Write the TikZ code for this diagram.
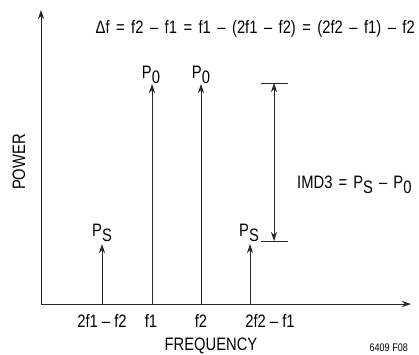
\documentclass[tikz,border=0pt]{standalone}
\usepackage{fontspec}
\setmainfont{Liberation Sans}[FakeStretch=0.82]
\usetikzlibrary{arrows.meta}
\newcommand{\sub}[1]{\raisebox{-5pt}{#1}}
\begin{document}
\begin{tikzpicture}[x=1pt,y=-1pt,
  ln/.style={line width=0.8pt,draw=black!85},
  tip/.style={-{Stealth[length=9pt,width=6pt]}},
  lbl/.style={font=\fontsize{18}{20}\selectfont,inner sep=0pt},
  small/.style={font=\fontsize{11}{12}\selectfont,inner sep=0pt}]
\useasboundingbox (0,0) rectangle (419,354);
% axes
\coordinate (O) at (41,304);
\coordinate (ytop) at (41,10);
\coordinate (xend) at (411,304);
\draw[ln,tip] (O) -- (ytop);
\draw[ln,tip] (O) -- (xend);
% spectral lines
\coordinate (b1) at (102,304); \coordinate (t1) at (102,244);
\coordinate (b2) at (152,304); \coordinate (t2) at (152,84);
\coordinate (b3) at (201,304); \coordinate (t3) at (201,84);
\coordinate (b4) at (250,304); \coordinate (t4) at (250,244);
\draw[ln,tip] (b1) -- (t1);
\draw[ln,tip] (b2) -- (t2);
\draw[ln,tip] (b3) -- (t3);
\draw[ln,tip] (b4) -- (t4);
% IMD3 marker
\coordinate (mtop) at (274,83);
\coordinate (mbot) at (274,241);
\coordinate (tl) at (261,83); \coordinate (tr) at (288,83);
\coordinate (bl) at (261,241); \coordinate (br) at (288,241);
\draw[ln] (tl) -- (tr);
\draw[ln] (bl) -- (br);
\draw[ln,{Stealth[length=9pt,width=6pt]}-{Stealth[length=9pt,width=6pt]}] (mtop) -- (mbot);
% labels
\node[lbl,anchor=base east] (eq) at (415,33) {\spaceskip=0.36em Δf = f2 – f1 = f1 – (2f1 – f2) = (2f2 – f1) – f2};
\node[lbl,anchor=base] (p1) at (151,78) {P\sub{0}};
\node[lbl,anchor=base] (p2) at (201,78) {P\sub{0}};
\node[lbl,anchor=base] (ps1) at (102,236) {P\sub{S}};
\node[lbl,anchor=base] (ps2) at (249,236) {P\sub{S}};
\node[lbl,anchor=base west] (imd) at (297,188) {\spaceskip=0.34em IMD3 = P\sub{S} – P\sub{0}};
\node[lbl,rotate=90] (pow) at (19,162) {POWER};
\node[lbl,anchor=base] (l1) at (102,327) {2f1 – f2};
\node[lbl,anchor=base] (l2) at (151,327) {f1};
\node[lbl,anchor=base] (l3) at (201,327) {f2};
\node[lbl,anchor=base] (l4) at (270,327) {2f2 – f1};
\node[lbl,anchor=base] (freq) at (211,350) {FREQUENCY};
\node[small,anchor=base east] (fig) at (408,351) {6409 F08};
\end{tikzpicture}
\end{document}
